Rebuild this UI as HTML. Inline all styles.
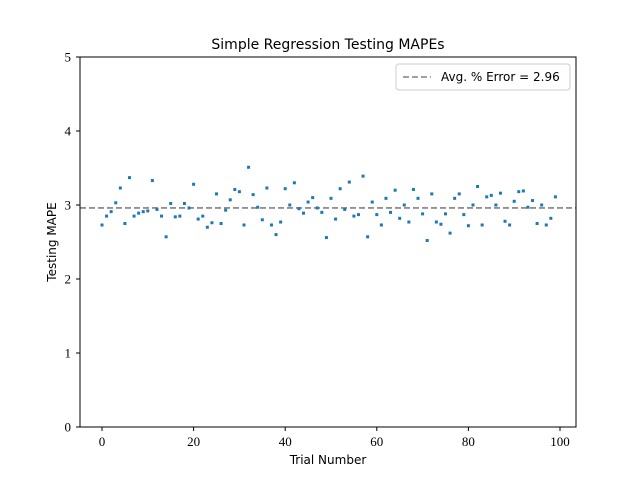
<!DOCTYPE html>
<html><head><meta charset="utf-8"><style>
body{margin:0;background:#fff}
svg text{fill:#000}
.num{font-family:"Liberation Serif",serif;font-size:13px}
.lab{font-family:"DejaVu Sans","Liberation Sans",sans-serif;font-size:12px}
</style></head><body>
<svg id="chart" width="640" height="480" viewBox="0 0 640 480">
<rect width="640" height="480" fill="#fff"/>
<text x="328" y="49" text-anchor="middle" class="lab" style="font-size:14px">Simple Regression Testing MAPEs</text>
<g id="xticks"></g>
<g id="yticks"></g>
<line id="avg" stroke="#808080" stroke-width="1.6" stroke-dasharray="6,3"/>
<g id="pts"></g>
<rect x="80" y="57" width="496" height="370" fill="none" stroke="#000" stroke-width="1"/>
<text x="328" y="464" text-anchor="middle" class="lab">Trial Number</text>
<text transform="translate(56,242) rotate(-90)" text-anchor="middle" class="lab">Testing MAPE</text>
<g>
<rect x="396" y="64" width="174" height="26" rx="3" fill="#fff" stroke="#ccc"/>
<line x1="403" y1="77" x2="431" y2="77" stroke="#808080" stroke-width="1.6" stroke-dasharray="6,3"/>
<text id="legtxt" x="441" y="81" class="lab">Avg. % Error = 2.96</text>
</g>
</svg>
<script>
const trials = Array.from({length:100},(_, i)=>i);
const mapes = [2.73,2.85,2.91,3.03,3.23,2.75,3.37,2.85,2.89,2.91,2.92,3.33,2.94,2.85,2.57,3.02,2.84,2.85,3.02,2.96,3.28,2.81,2.85,2.70,2.76,3.15,2.75,2.93,3.07,3.21,3.18,2.73,3.51,3.14,2.97,2.80,3.23,2.73,2.60,2.77,3.22,3.00,3.30,2.95,2.89,3.04,3.10,2.96,2.90,2.56,3.09,2.81,3.22,2.94,3.31,2.85,2.87,3.39,2.57,3.04,2.87,2.73,3.09,2.90,3.20,2.82,3.00,2.77,3.21,3.09,2.88,2.52,3.15,2.77,2.74,2.88,2.62,3.09,3.15,2.87,2.72,3.00,3.25,2.73,3.11,3.13,3.00,3.16,2.78,2.73,3.05,3.18,3.19,2.97,3.06,2.75,3.00,2.73,2.82,3.11];
const avgError = [2.96];
const xTickLabels = [0,20,40,60,80,100];
const yTickLabels = [0,1,2,3,4,5];
const NS="http://www.w3.org/2000/svg";
const xs=v=>102+v*4.58, ys=v=>427-v*74;
const xg=document.getElementById('xticks'), yg=document.getElementById('yticks'), pg=document.getElementById('pts');
xTickLabels.forEach(t=>{
  const l=document.createElementNS(NS,'line');
  l.setAttribute('x1',xs(t));l.setAttribute('x2',xs(t));l.setAttribute('y1',427);l.setAttribute('y2',431);l.setAttribute('stroke','#000');
  
  
  xg.appendChild(l);
  const tx=document.createElementNS(NS,'text');
  tx.setAttribute('x',xs(t));tx.setAttribute('y',446);tx.setAttribute('text-anchor','middle');tx.setAttribute('class','num');tx.textContent=t;
  
  
  xg.appendChild(tx);
});
yTickLabels.forEach(t=>{
  const l=document.createElementNS(NS,'line');
  l.setAttribute('x1',76);l.setAttribute('x2',80);l.setAttribute('y1',ys(t));l.setAttribute('y2',ys(t));l.setAttribute('stroke','#000');
  
  
  yg.appendChild(l);
  const tx=document.createElementNS(NS,'text');
  tx.setAttribute('x',71);tx.setAttribute('y',ys(t)+4.5);tx.setAttribute('text-anchor','end');tx.setAttribute('class','num');tx.textContent=t;
  
  
  yg.appendChild(tx);
});
const a=document.getElementById('avg');
a.setAttribute('x1',80);a.setAttribute('x2',576);a.setAttribute('y1',ys(avgError[0]));a.setAttribute('y2',ys(avgError[0]));
document.getElementById('legtxt').textContent='Avg. % Error = '+avgError[0].toFixed(2);
trials.forEach((t,i)=>{
  const c=document.createElementNS(NS,'rect');
  c.setAttribute('x',xs(t)-1.5);c.setAttribute('y',ys(mapes[i])-1.5);c.setAttribute('width',3);c.setAttribute('height',3);c.setAttribute('fill','#1f77b4');
  
  
  pg.appendChild(c);
});
</script>
</body></html>
